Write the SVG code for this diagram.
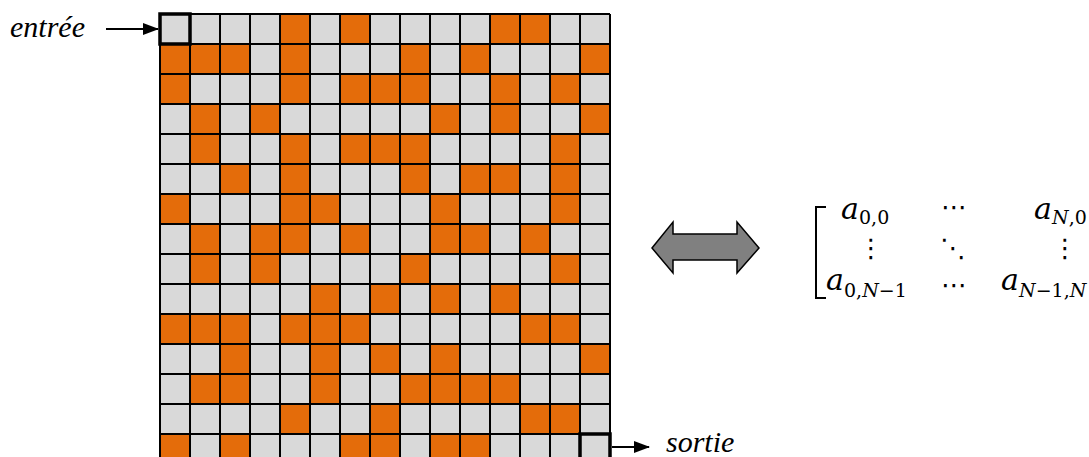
<svg xmlns="http://www.w3.org/2000/svg" width="1089" height="457" viewBox="0 0 1089 457">
<style>
.bg{fill:#D9D9D9}
.o{fill:#E46C0A}
.gl{stroke:#000;stroke-width:2;fill:none}
.thick{fill:none;stroke:#000;stroke-width:3.5}
.lbl{font-family:'Liberation Serif','Times New Roman',serif;font-style:italic;font-size:30px;fill:#000}
.m{font-family:'DejaVu Serif','Liberation Serif',serif;font-style:italic;font-size:30px;fill:#000}
.s{font-family:'DejaVu Serif','Liberation Serif',serif;font-size:19px;fill:#000}
.si{font-style:italic}
.dots{font-family:'DejaVu Sans',sans-serif;font-size:26px;fill:#000}
.ln{stroke:#000;stroke-width:2;fill:none}
</style>
<defs>
<rect id="oc" width="30" height="30" class="o"/>
<marker id="ah" markerWidth="16" markerHeight="12" refX="15" refY="6" orient="auto" markerUnits="userSpaceOnUse">
<path d="M0,0 L16,6 L0,12 Z" fill="#000"/>
</marker>
</defs>
<g id="grid">
<rect class="bg" x="160" y="14" width="450" height="450"/>
<g id="orange">
<use href="#oc" x="280" y="14"/><use href="#oc" x="340" y="14"/><use href="#oc" x="490" y="14"/><use href="#oc" x="520" y="14"/>
<use href="#oc" x="160" y="44"/><use href="#oc" x="190" y="44"/><use href="#oc" x="220" y="44"/><use href="#oc" x="280" y="44"/><use href="#oc" x="400" y="44"/><use href="#oc" x="460" y="44"/><use href="#oc" x="580" y="44"/>
<use href="#oc" x="160" y="74"/><use href="#oc" x="280" y="74"/><use href="#oc" x="340" y="74"/><use href="#oc" x="370" y="74"/><use href="#oc" x="400" y="74"/><use href="#oc" x="490" y="74"/><use href="#oc" x="550" y="74"/>
<use href="#oc" x="190" y="104"/><use href="#oc" x="250" y="104"/><use href="#oc" x="430" y="104"/><use href="#oc" x="490" y="104"/><use href="#oc" x="580" y="104"/>
<use href="#oc" x="190" y="134"/><use href="#oc" x="280" y="134"/><use href="#oc" x="340" y="134"/><use href="#oc" x="370" y="134"/><use href="#oc" x="400" y="134"/><use href="#oc" x="550" y="134"/>
<use href="#oc" x="220" y="164"/><use href="#oc" x="280" y="164"/><use href="#oc" x="400" y="164"/><use href="#oc" x="460" y="164"/><use href="#oc" x="490" y="164"/><use href="#oc" x="550" y="164"/>
<use href="#oc" x="160" y="194"/><use href="#oc" x="280" y="194"/><use href="#oc" x="310" y="194"/><use href="#oc" x="430" y="194"/><use href="#oc" x="550" y="194"/>
<use href="#oc" x="190" y="224"/><use href="#oc" x="250" y="224"/><use href="#oc" x="280" y="224"/><use href="#oc" x="340" y="224"/><use href="#oc" x="430" y="224"/><use href="#oc" x="460" y="224"/><use href="#oc" x="520" y="224"/>
<use href="#oc" x="190" y="254"/><use href="#oc" x="250" y="254"/><use href="#oc" x="400" y="254"/><use href="#oc" x="550" y="254"/>
<use href="#oc" x="310" y="284"/><use href="#oc" x="370" y="284"/><use href="#oc" x="430" y="284"/><use href="#oc" x="490" y="284"/>
<use href="#oc" x="160" y="314"/><use href="#oc" x="190" y="314"/><use href="#oc" x="220" y="314"/><use href="#oc" x="280" y="314"/><use href="#oc" x="310" y="314"/><use href="#oc" x="340" y="314"/><use href="#oc" x="520" y="314"/><use href="#oc" x="550" y="314"/>
<use href="#oc" x="220" y="344"/><use href="#oc" x="310" y="344"/><use href="#oc" x="370" y="344"/><use href="#oc" x="430" y="344"/><use href="#oc" x="580" y="344"/>
<use href="#oc" x="190" y="374"/><use href="#oc" x="220" y="374"/><use href="#oc" x="310" y="374"/><use href="#oc" x="400" y="374"/><use href="#oc" x="430" y="374"/><use href="#oc" x="460" y="374"/><use href="#oc" x="490" y="374"/>
<use href="#oc" x="280" y="404"/><use href="#oc" x="370" y="404"/><use href="#oc" x="520" y="404"/><use href="#oc" x="550" y="404"/>
<use href="#oc" x="160" y="434"/><use href="#oc" x="220" y="434"/><use href="#oc" x="340" y="434"/><use href="#oc" x="370" y="434"/><use href="#oc" x="430" y="434"/><use href="#oc" x="460" y="434"/>
</g>
<path class="gl" d="M160,14V464M190,14V464M220,14V464M250,14V464M280,14V464M310,14V464M340,14V464M370,14V464M400,14V464M430,14V464M460,14V464M490,14V464M520,14V464M550,14V464M580,14V464M610,14V464
M160,14H610M160,44H610M160,74H610M160,104H610M160,134H610M160,164H610M160,194H610M160,224H610M160,254H610M160,284H610M160,314H610M160,344H610M160,374H610M160,404H610M160,434H610M160,464H610"/>
</g>
<g id="entree">
<rect class="thick" x="160" y="14" width="30" height="30"/>
<text class="lbl" x="10" y="37">entrée</text>
</g>
<g id="sortie">
<rect class="thick" x="580" y="434" width="30" height="30"/>
<text class="lbl" x="666" y="452">sortie</text>
</g>
<g id="connectors">
<line class="ln" x1="106" y1="29" x2="158" y2="29" marker-end="url(#ah)"/>
<line class="ln" x1="612" y1="447" x2="649" y2="447" marker-end="url(#ah)"/>
<path id="double-arrow" d="M652,248 L673,222 L673,234 L737,234 L737,222 L759,248 L737,273 L737,260 L673,260 L673,273 Z" fill="#808080" stroke="#000" stroke-width="1.5" stroke-linejoin="miter"/>
</g>
<g id="matrix">
<path class="ln" d="M826,207H816V298H826"/>
<text class="m" x="841" y="219">a</text><text class="s" x="859" y="224">0,0</text>
<text class="dots" x="941" y="216">⋯</text>
<text class="m" x="1034" y="219">a</text><text class="s" x="1052" y="224"><tspan class="si">N</tspan>,0</text>
<text class="dots" x="858" y="257">⋮</text>
<text class="dots" x="940" y="257">⋱</text>
<text class="dots" x="1052" y="257">⋮</text>
<text class="m" x="826" y="290">a</text><text class="s" x="844" y="297">0,<tspan class="si">N</tspan>−1</text>
<text class="dots" x="941" y="294">⋯</text>
<text class="m" x="1001" y="290">a</text><text class="s" x="1019" y="297"><tspan class="si">N</tspan>−1,<tspan class="si">N</tspan></text>
</g>
</svg>
